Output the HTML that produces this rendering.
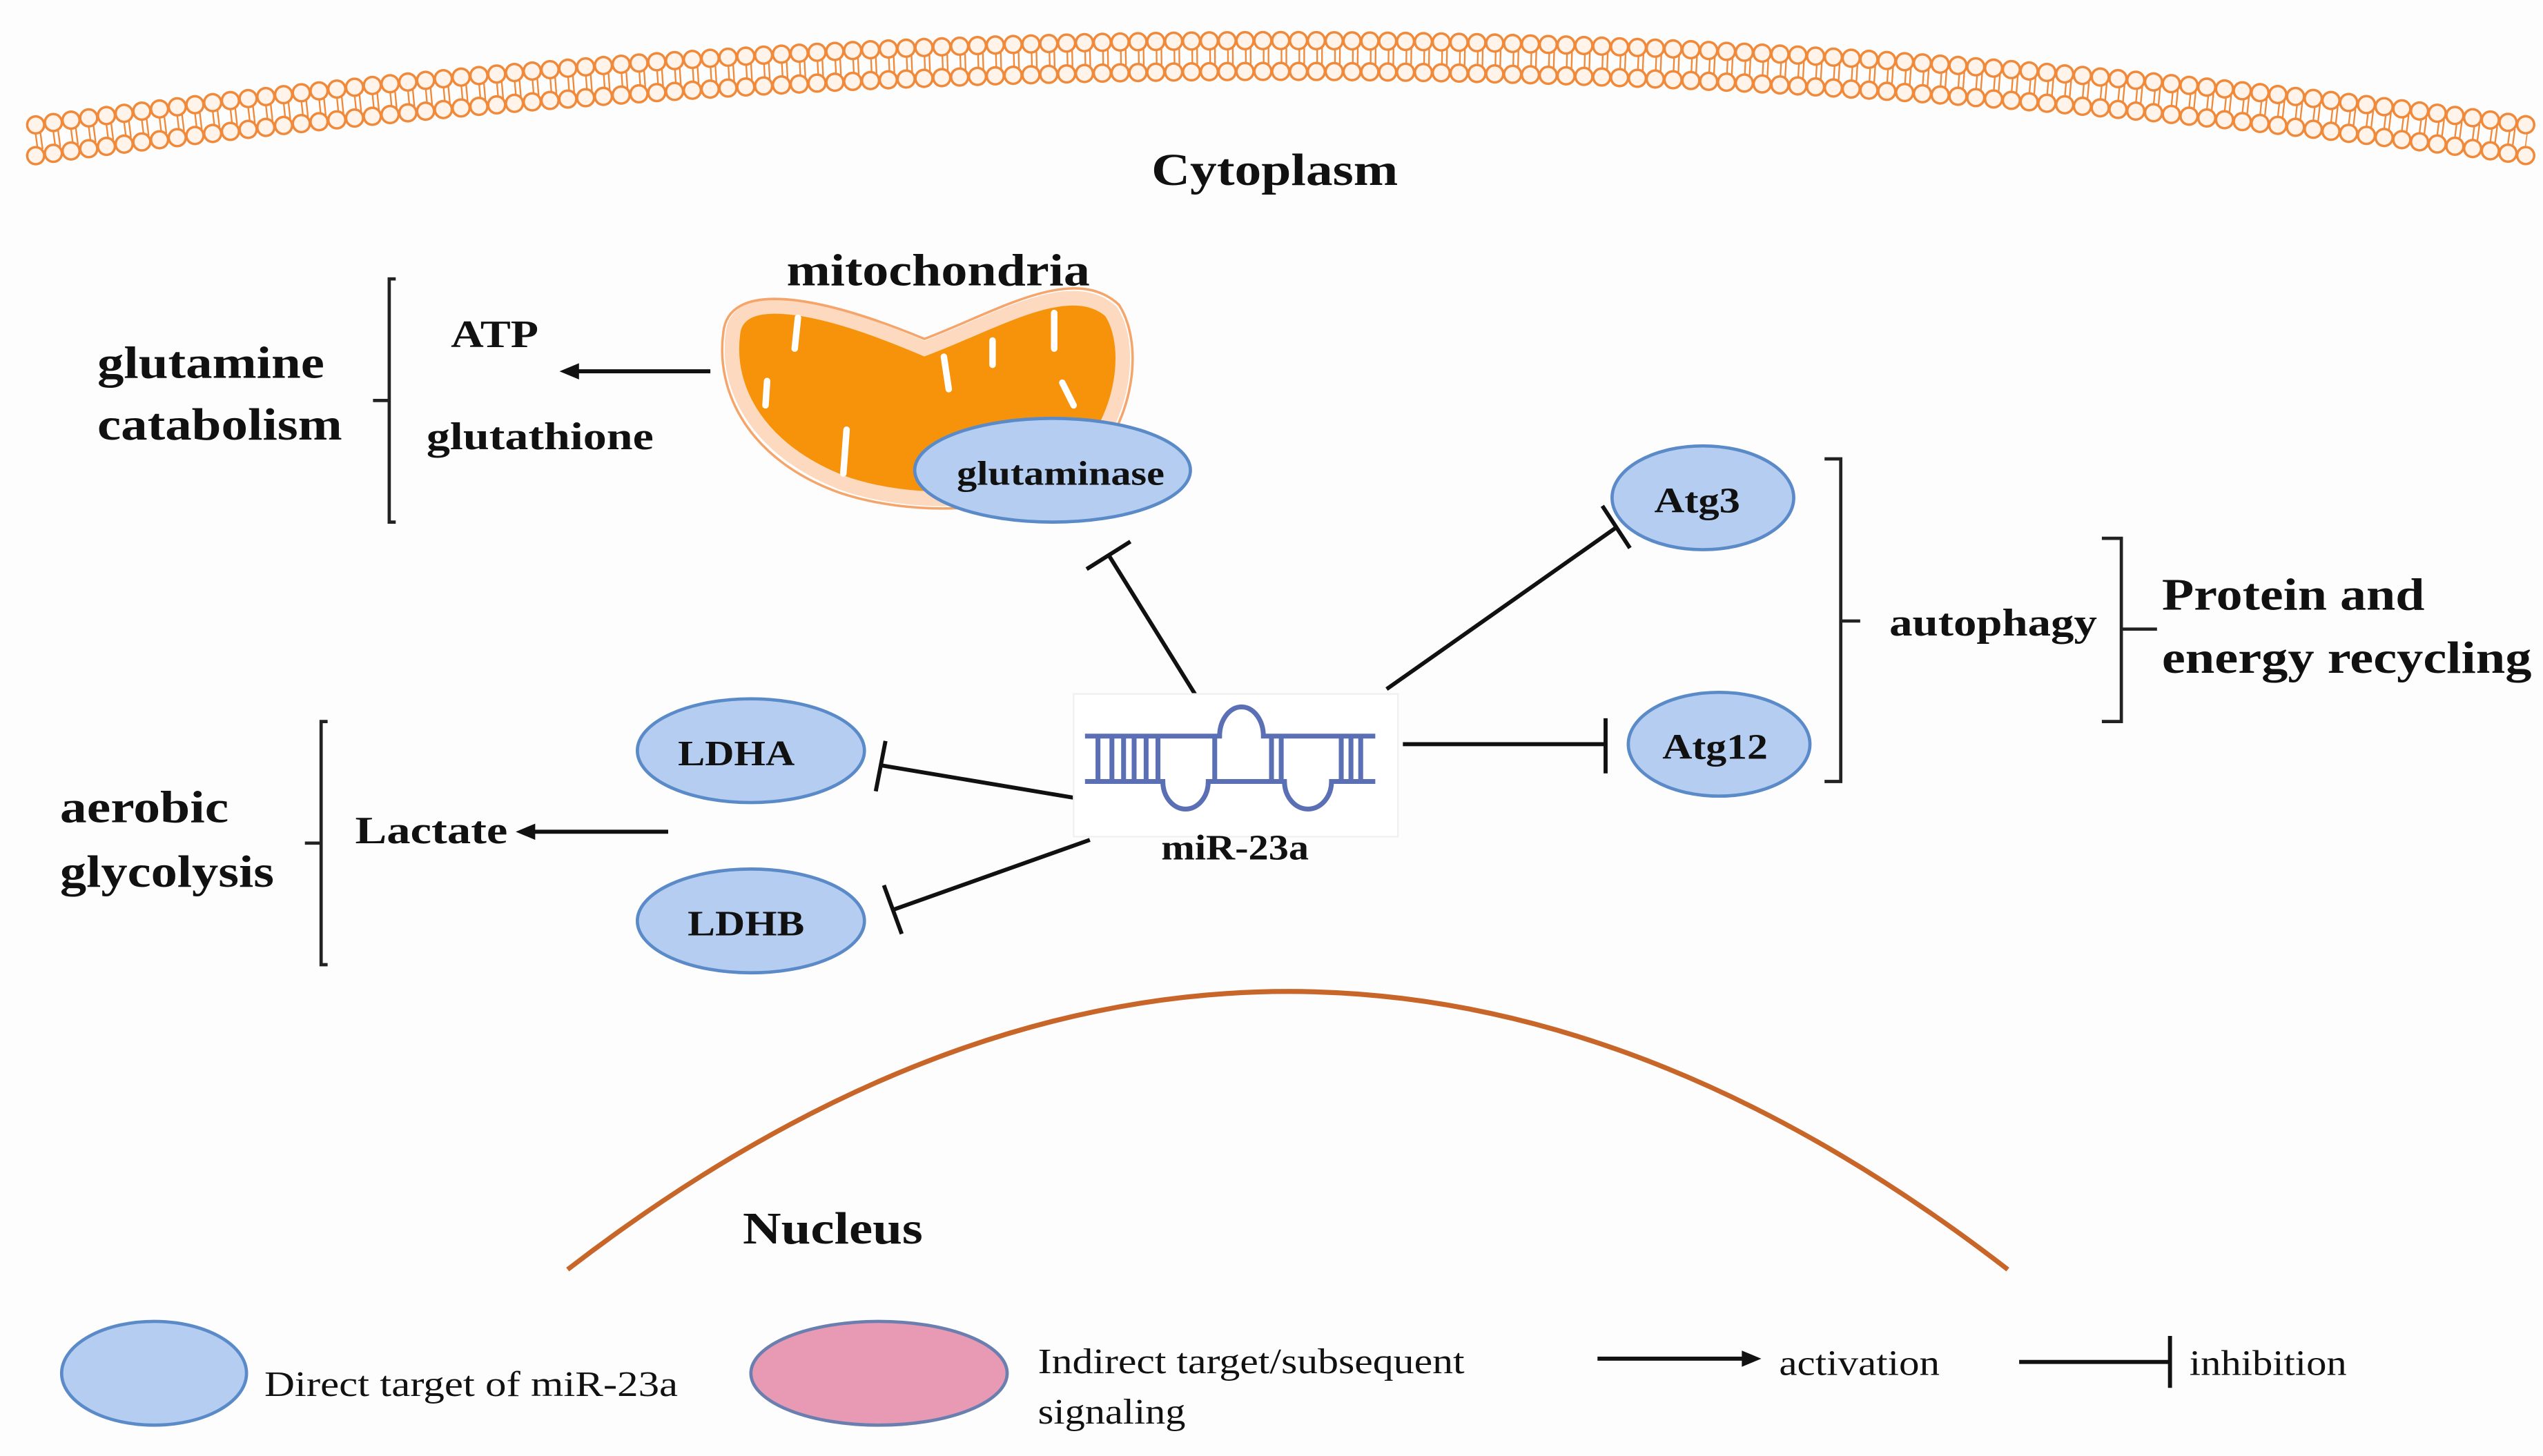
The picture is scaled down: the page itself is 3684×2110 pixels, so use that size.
<!DOCTYPE html>
<html><head><meta charset="utf-8"><style>
html,body{margin:0;padding:0;background:#fff;}
svg{display:block;}
text{font-family:"Liberation Serif","Times New Roman",serif;fill:#111;}
.b{font-weight:bold;}
</style></head><body>
<svg width="3684" height="2110" viewBox="0 0 1568 898" xmlns="http://www.w3.org/2000/svg" font-family="Liberation Serif, serif">
<rect width="1568" height="898" fill="#fdfdfd"/>
<!-- membrane -->
<g fill="none">
<path d="M22,86.5 Q790,-17.5 1558,86.5" stroke="#f08a3a" stroke-width="12" stroke-dasharray="1 2 1 7"/>
<path d="M22,77 Q790,-27 1558,77" stroke="#f08a3a" stroke-width="12" stroke-dasharray="0 11" stroke-linecap="round"/>
<path d="M22,77 Q790,-27 1558,77" stroke="#fff3ea" stroke-width="9" stroke-dasharray="0 11" stroke-linecap="round"/>
<path d="M22,96 Q790,-8 1558,96" stroke="#f08a3a" stroke-width="12" stroke-dasharray="0 11" stroke-linecap="round"/>
<path d="M22,96 Q790,-8 1558,96" stroke="#fff3ea" stroke-width="9" stroke-dasharray="0 11" stroke-linecap="round"/>
</g>
<text x="710" y="114" font-size="28" class="b" textLength="152" lengthAdjust="spacingAndGlyphs">Cytoplasm</text>
<!-- nucleus -->
<path d="M350,783 Q795,440 1238,783" fill="none" stroke="#c8662a" stroke-width="3"/>
<text x="458" y="767" font-size="28" class="b" textLength="111" lengthAdjust="spacingAndGlyphs">Nucleus</text>
<!-- mitochondria -->
<text x="485" y="176" font-size="28" class="b" textLength="187" lengthAdjust="spacingAndGlyphs">mitochondria</text>
<path d="M452,205 C455,180 500,185 570,215 C615,198 660,170 685,192 C700,215 692,265 660,290 C620,312 560,312 520,298 C468,278 447,240 452,205Z" fill="#f7930a" stroke="#fcd9bf" stroke-width="9"/>
<path d="M446,205 C449,174 500,180 570,209 C615,192 662,162 690,188 C707,215 698,268 664,295 C622,318 560,318 518,304 C462,284 441,242 446,205Z" fill="none" stroke="#f5a46a" stroke-width="1.5"/>
<g stroke="#fff" stroke-width="4" stroke-linecap="round">
<line x1="492" y1="196" x2="490" y2="215"/><line x1="473" y1="235" x2="472" y2="250"/>
<line x1="582" y1="220" x2="585" y2="240"/><line x1="612" y1="210" x2="612" y2="225"/>
<line x1="650" y1="193" x2="650" y2="215"/><line x1="655" y1="236" x2="662" y2="250"/>
<line x1="522" y1="265" x2="520" y2="292"/>
</g>
<ellipse cx="649" cy="290" rx="85" ry="32" fill="#b4cdf0" stroke="#5b8ac8" stroke-width="2"/>
<text x="590" y="299" font-size="21" class="b" textLength="128" lengthAdjust="spacingAndGlyphs">glutaminase</text>
<!-- glutamine catabolism -->
<text x="60" y="233" font-size="28" class="b" textLength="140" lengthAdjust="spacingAndGlyphs">glutamine</text>
<text x="60" y="271" font-size="28" class="b" textLength="151" lengthAdjust="spacingAndGlyphs">catabolism</text>
<path d="M244,172 H240 V322 H244 M240,247 H230" fill="none" stroke="#222" stroke-width="2"/>
<text x="278" y="214" font-size="24" class="b" textLength="54" lengthAdjust="spacingAndGlyphs">ATP</text>
<text x="263" y="277" font-size="24" class="b" textLength="140" lengthAdjust="spacingAndGlyphs">glutathione</text>
<line x1="438" y1="229" x2="355" y2="229" stroke="#111" stroke-width="2.5"/>
<polygon points="345,229 357,224 357,234" fill="#111"/>
<!-- aerobic glycolysis -->
<text x="37" y="507" font-size="28" class="b" textLength="104" lengthAdjust="spacingAndGlyphs">aerobic</text>
<text x="37" y="547" font-size="28" class="b" textLength="132" lengthAdjust="spacingAndGlyphs">glycolysis</text>
<path d="M202,445 H198 V595 H202 M198,520 H188" fill="none" stroke="#222" stroke-width="2"/>
<text x="219" y="520" font-size="24" class="b" textLength="94" lengthAdjust="spacingAndGlyphs">Lactate</text>
<line x1="412" y1="513" x2="328" y2="513" stroke="#111" stroke-width="2.5"/>
<polygon points="318,513 330,508 330,518" fill="#111"/>
<!-- ellipses -->
<ellipse cx="463" cy="463" rx="70" ry="32" fill="#b4cdf0" stroke="#5b8ac8" stroke-width="2"/>
<text x="418" y="472" font-size="22" class="b" textLength="72" lengthAdjust="spacingAndGlyphs">LDHA</text>
<ellipse cx="463" cy="568" rx="70" ry="32" fill="#b4cdf0" stroke="#5b8ac8" stroke-width="2"/>
<text x="424" y="577" font-size="22" class="b" textLength="72" lengthAdjust="spacingAndGlyphs">LDHB</text>
<ellipse cx="1050" cy="307" rx="56" ry="32" fill="#b4cdf0" stroke="#5b8ac8" stroke-width="2"/>
<text x="1020" y="316" font-size="22" class="b" textLength="53" lengthAdjust="spacingAndGlyphs">Atg3</text>
<ellipse cx="1060" cy="459" rx="56" ry="32" fill="#b4cdf0" stroke="#5b8ac8" stroke-width="2"/>
<text x="1025" y="468" font-size="22" class="b" textLength="65" lengthAdjust="spacingAndGlyphs">Atg12</text>
<!-- inhibitions -->
<g stroke="#111" stroke-width="2.5" fill="none">
<line x1="738" y1="430" x2="684" y2="343"/><line x1="670" y1="351" x2="697" y2="334"/>
<line x1="855" y1="425" x2="997" y2="325"/><line x1="988" y1="312" x2="1005" y2="338"/>
<line x1="865" y1="459" x2="990" y2="459"/><line x1="990" y1="443" x2="990" y2="477"/>
<line x1="662" y1="492" x2="543" y2="472"/><line x1="546" y1="457" x2="540" y2="488"/>
<line x1="672" y1="518" x2="551" y2="561"/><line x1="545" y1="546" x2="556" y2="576"/>
</g>
<!-- miRNA -->
<rect x="662" y="428" width="200" height="88" fill="#fff" stroke="#f0f0f0"/>
<g stroke="#5b6fb5" stroke-width="3" fill="none">
<path d="M669,454 H752 A13.5,18 0 0 1 779,454 H848"/>
<path d="M669,482 H717 A14,17 0 0 0 745,482 H792 A14.5,17 0 0 0 821,482 H848"/>
<path d="M677,454V482M685.6,454V482M692.8,454V482M699.3,454V482M706.7,454V482M714,454V482M749,454V482M784,454V482M790,454V482M827,454V482M833,454V482M839,454V482"/>
</g>
<text x="716" y="530" font-size="22" class="b" textLength="91" lengthAdjust="spacingAndGlyphs">miR-23a</text>
<!-- autophagy -->
<path d="M1125,283 H1135 V482 H1125 M1135,383 H1147" fill="none" stroke="#222" stroke-width="2"/>
<text x="1165" y="392" font-size="24" class="b" textLength="128" lengthAdjust="spacingAndGlyphs">autophagy</text>
<path d="M1296,332 H1308 V445 H1296 M1308,388 H1330" fill="none" stroke="#222" stroke-width="2"/>
<text x="1333" y="376" font-size="28" class="b" textLength="162" lengthAdjust="spacingAndGlyphs">Protein and</text>
<text x="1333" y="415" font-size="28" class="b" textLength="228" lengthAdjust="spacingAndGlyphs">energy recycling</text>
<!-- legend -->
<ellipse cx="95" cy="847" rx="57" ry="32" fill="#b4cdf0" stroke="#5b8ac8" stroke-width="2"/>
<text x="163" y="861" font-size="22" textLength="255" lengthAdjust="spacingAndGlyphs">Direct target of miR-23a</text>
<ellipse cx="542" cy="847" rx="79" ry="32" fill="#e89ab5" stroke="#6a7fb0" stroke-width="2"/>
<text x="640" y="847" font-size="22" textLength="263" lengthAdjust="spacingAndGlyphs">Indirect target/subsequent</text>
<text x="640" y="878" font-size="22" textLength="91" lengthAdjust="spacingAndGlyphs">signaling</text>
<line x1="985" y1="838" x2="1075" y2="838" stroke="#111" stroke-width="2.5"/>
<polygon points="1086,838 1074,833 1074,843" fill="#111"/>
<text x="1097" y="848" font-size="22" textLength="99" lengthAdjust="spacingAndGlyphs">activation</text>
<line x1="1245" y1="840" x2="1338" y2="840" stroke="#111" stroke-width="2.5"/>
<line x1="1338" y1="824" x2="1338" y2="856" stroke="#111" stroke-width="2.5"/>
<text x="1350" y="848" font-size="22" textLength="97" lengthAdjust="spacingAndGlyphs">inhibition</text>
</svg>
</body></html>
